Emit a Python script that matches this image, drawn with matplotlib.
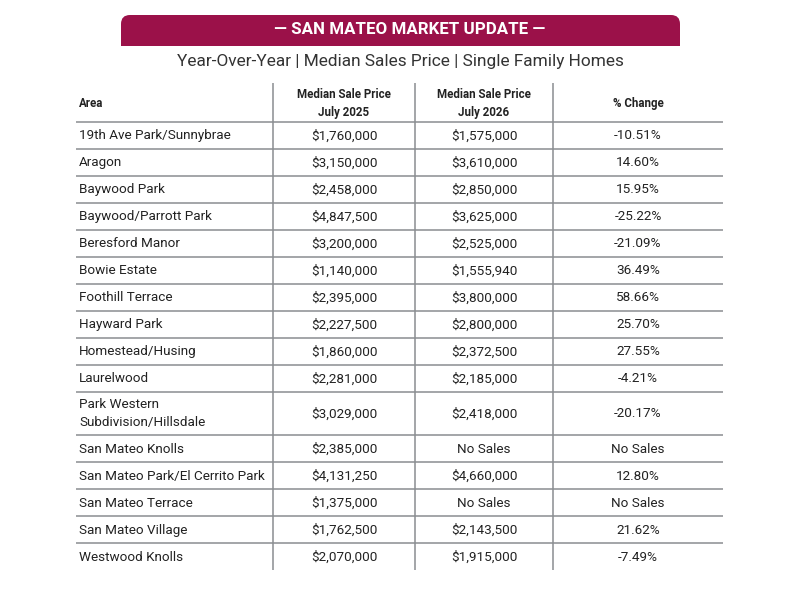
import matplotlib
matplotlib.use("Agg")
import matplotlib.pyplot as plt
from matplotlib.patches import FancyBboxPatch, Rectangle

# table content
areas = [
    "19th Ave Park/Sunnybrae", "Aragon", "Baywood Park", "Baywood/Parrott Park",
    "Beresford Manor", "Bowie Estate", "Foothill Terrace", "Hayward Park",
    "Homestead/Husing", "Laurelwood", "Park Western\nSubdivision/Hillsdale",
    "San Mateo Knolls", "San Mateo Park/El Cerrito Park", "San Mateo Terrace",
    "San Mateo Village", "Westwood Knolls",
]
price_2025 = [
    "$1,760,000", "$3,150,000", "$2,458,000", "$4,847,500", "$3,200,000",
    "$1,140,000", "$2,395,000", "$2,227,500", "$1,860,000", "$2,281,000",
    "$3,029,000", "$2,385,000", "$4,131,250", "$1,375,000", "$1,762,500",
    "$2,070,000",
]
price_2026 = [
    "$1,575,000", "$3,610,000", "$2,850,000", "$3,625,000", "$2,525,000",
    "$1,555,940", "$3,800,000", "$2,800,000", "$2,372,500", "$2,185,000",
    "$2,418,000", "No Sales", "$4,660,000", "No Sales", "$2,143,500",
    "$1,915,000",
]
pct_change = [
    "-10.51%", "14.60%", "15.95%", "-25.22%", "-21.09%", "36.49%", "58.66%",
    "25.70%", "27.55%", "-4.21%", "-20.17%", "No Sales", "12.80%", "No Sales",
    "21.62%", "-7.49%",
]
col_headers = ["Area", "Median Sale Price\nJuly 2025", "Median Sale Price\nJuly 2026", "% Change"]

TITLE = "— SAN MATEO MARKET UPDATE —"
SUBTITLE = "Year-Over-Year | Median Sales Price | Single Family Homes"

MAROON = "#9b1149"
LINE = "#8a8d91"
TEXT = "#222222"
FONT = ["Roboto", "DejaVu Sans"]

fig = plt.figure(figsize=(8, 6), dpi=100)
ax = fig.add_axes([0, 0, 1, 1])
ax.set_xlim(0, 800)
ax.set_ylim(600, 0)
ax.axis("off")

# banner: rounded top corners, square bottom
ax.add_patch(FancyBboxPatch((121, 15), 559, 31, boxstyle="round,pad=0,rounding_size=9",
                            fc=MAROON, ec="none"))
ax.add_patch(Rectangle((121, 30), 559, 16, fc=MAROON, ec="none"))
ax.text(409.5, 29.5, TITLE, ha="center", va="center", color="white", fontsize=12.2,
        fontweight="bold", family=FONT)
ax.text(400, 61.5, SUBTITLE, ha="center", va="center", color="#333333", fontsize=12.4,
        family=FONT)

# table geometry
x_left, x_right = 76, 723
col_x = [76, 273, 415, 553, 723]
head_top, head_bot = 83, 121.7
row_h, tall_h = 27, 43.5

tops = [head_bot]
for a in areas:
    tops.append(tops[-1] + (tall_h if "\n" in a else row_h))

# header
for i, h in enumerate(col_headers):
    if i == 0:
        ax.text(79, (head_top + head_bot) / 2 + 1, h, ha="left", va="center",
                fontsize=8.3, fontweight="bold", color=TEXT, family=FONT)
    else:
        ax.text((col_x[i] + col_x[i + 1]) / 2, (head_top + head_bot) / 2 + 1, h,
                ha="center", va="center", fontsize=8.3, fontweight="bold",
                color=TEXT, family=FONT, linespacing=1.5)

# rows
for r, (a, p1, p2, pc) in enumerate(zip(areas, price_2025, price_2026, pct_change)):
    yc = (tops[r] + tops[r + 1]) / 2 + 0.5
    ax.text(79, yc, a, ha="left", va="center", fontsize=9.7, color=TEXT,
            family=FONT, linespacing=1.5)
    for i, v in enumerate([p1, p2, pc], start=1):
        ax.text((col_x[i] + col_x[i + 1]) / 2, yc, v, ha="center", va="center",
                fontsize=9.7, color=TEXT, family=FONT)

# horizontal rules
for y in tops[:-1]:
    ax.plot([x_left, x_right], [y, y], color=LINE, lw=1.1, solid_capstyle="butt")
# vertical rules
for x in col_x[1:4]:
    ax.plot([x, x], [head_top, tops[-1]], color=LINE, lw=1.1, solid_capstyle="butt")

fig.savefig("out.png", dpi=100, facecolor="white")
